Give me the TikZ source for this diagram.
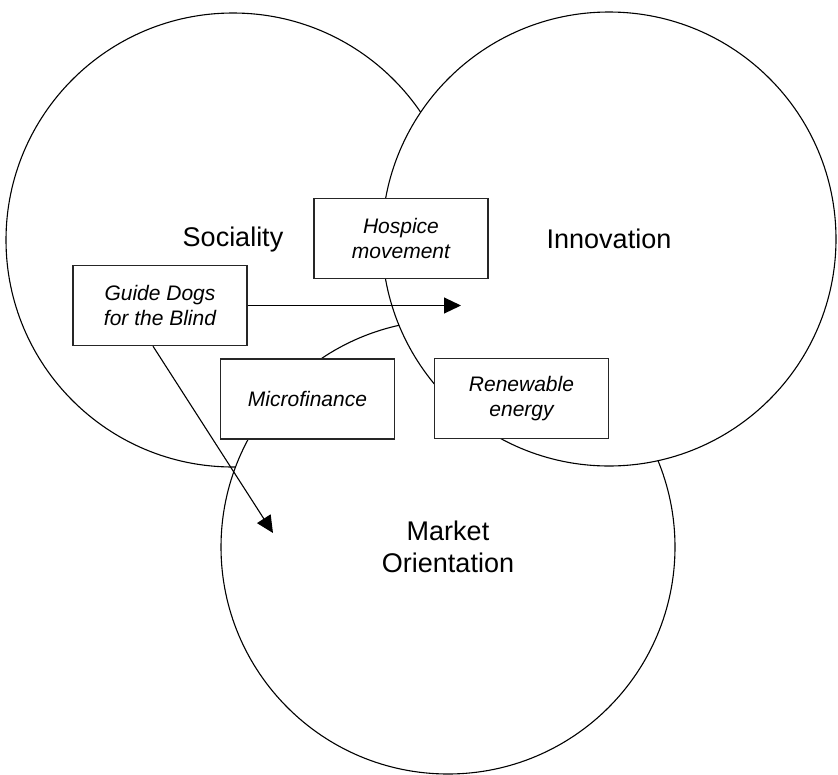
\documentclass[tikz,border=0pt]{standalone}
\usepackage{fontspec}
\setmainfont{Liberation Sans}
\usetikzlibrary{arrows.meta}
\begin{document}
\begin{tikzpicture}[x=1pt,y=-1pt,
  venn/.style={circle,draw=black,fill=white,line width=1.1pt,inner sep=0pt,minimum size=454pt,
    align=center,font=\fontsize{27pt}{32pt}\selectfont},
  casebox/.style={rectangle,draw=black!85,fill=white,line width=1.4pt,minimum width=174pt,minimum height=80pt,
    inner sep=0pt,align=center,font=\fontsize{21pt}{25pt}\selectfont\itshape},
  arr/.style={line width=1.1pt,-{Triangle[length=17pt,width=16pt]}}]
\useasboundingbox (0,0) rectangle (838,774);
\node[venn] (soc) at (233,240) {Sociality};
\node[venn] (mkt) at (448,547) {Market\\Orientation};
\node[venn] (inn) at (609,239) {Innovation};
\node[casebox] (hos) at (401,238.5) {Hospice\\movement};
\node[casebox] (gd) at (160,305.5) {Guide Dogs\\for the Blind};
\node[casebox] (mf) at (307.5,399) {Microfinance};
\node[casebox] (re) at (521.5,398.5) {Renewable\\energy};
\coordinate (t1) at (461,305.5);
\coordinate (t2) at (273,533);
\draw[arr] (gd.east) -- (t1);
\draw[arr] ([xshift=-7pt]gd.south) -- (t2);
\end{tikzpicture}
\end{document}
